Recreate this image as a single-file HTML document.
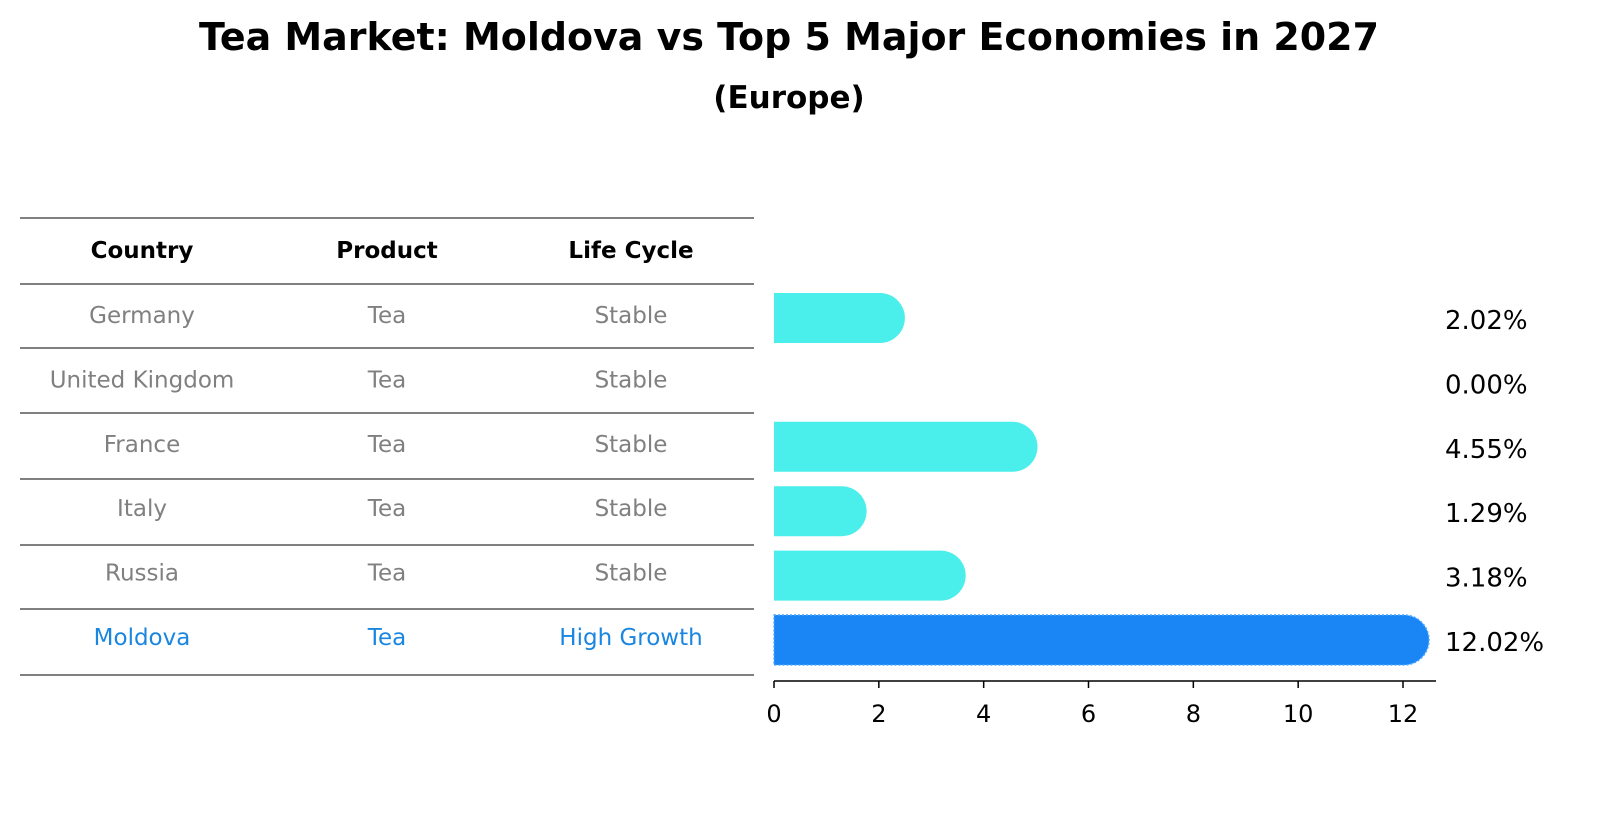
<!DOCTYPE html>
<html><head><meta charset="utf-8"><style>
body{margin:0;background:#fff;font-family:"Liberation Sans","DejaVu Sans",sans-serif;}
svg text{font-family:"DejaVu Sans","Liberation Sans",sans-serif;}
</style></head><body>
<svg id="c" width="1604" height="823" viewBox="0 0 1604 823">
<text x="789" y="50" text-anchor="middle" font-size="38" font-weight="bold" textLength="1180" lengthAdjust="spacingAndGlyphs">Tea Market: Moldova vs Top 5 Major Economies in 2027</text>
<text x="789" y="108" text-anchor="middle" font-size="31" font-weight="bold">(Europe)</text>
<g id="tbl"></g>
<g id="bars"></g>
<g id="axis"></g>
</svg>
<script>
const countries=["Germany","United Kingdom","France","Italy","Russia","Moldova"];
const products=["Tea","Tea","Tea","Tea","Tea","Tea"];
const lifecycles=["Stable","Stable","Stable","Stable","Stable","High Growth"];
const values=[2.02,0.00,4.55,1.29,3.18,12.02];
const ticks=[0,2,4,6,8,10,12];
const NS="http://www.w3.org/2000/svg";
function mk(t,a,p,txt){const e=document.createElementNS(NS,t);for(const k in a)e.setAttribute(k,a[k]);if(txt!==undefined)e.textContent=txt;p.appendChild(e);return e;}
const x=v=>774+v*(1403-774)/12;
const rowY=i=>316+i*64.4;
const tbl=document.getElementById('tbl'),bars=document.getElementById('bars'),axis=document.getElementById('axis');
const lines=[218,284,348,413,479,545,609,675];
lines.forEach(y=>{const l=mk('line',{x1:20,x2:754,y1:y,y2:y,stroke:'#000','stroke-width':1},tbl);});
const cx=[142,387,631];
["Country","Product","Life Cycle"].forEach((h,j)=>{const t=mk('text',{x:cx[j],y:258,'text-anchor':'middle','font-size':23,'font-weight':'bold'},tbl,h);});
countries.forEach((c,i)=>{
  const y=rowY(i)+7, col=i===5?'#1a86e0':'#808080';
  [c,products[i],lifecycles[i]].forEach((s,j)=>{const t=mk('text',{x:cx[j],y:y,'text-anchor':'middle','font-size':23,fill:col},tbl,s);});
  const h=50,r=25,y0=rowY(i)-h/2+2,w=x(values[i])-x(0);
  if(values[i]>0){
    const fill=i===5?'#1a86f5':'#4aeeea';
    const d=`M${x(0)},${y0} H${x(0)+w} A${r},${r} 0 0 1 ${x(0)+w},${y0+h} H${x(0)} Z`;
    const p=mk('path',{d:d,fill:fill},bars);
    if(i===5){p.setAttribute('stroke','#4aa8ff');p.setAttribute('stroke-dasharray','2 2');p.setAttribute('stroke-width','1.5');}
    
    
  }
  const t=mk('text',{x:1445,y:rowY(i)+13,'font-size':26},bars,values[i].toFixed(2)+'%');
  
  
});
mk('line',{x1:774,x2:1436,y1:681,y2:681,stroke:'#000','stroke-width':1.5},axis);
ticks.forEach(v=>{
  mk('line',{x1:x(v),x2:x(v),y1:681,y2:688,stroke:'#000','stroke-width':1.5},axis);
  const t=mk('text',{x:x(v),y:722,'text-anchor':'middle','font-size':24},axis,v);
  
  
});
</script>
</body></html>
